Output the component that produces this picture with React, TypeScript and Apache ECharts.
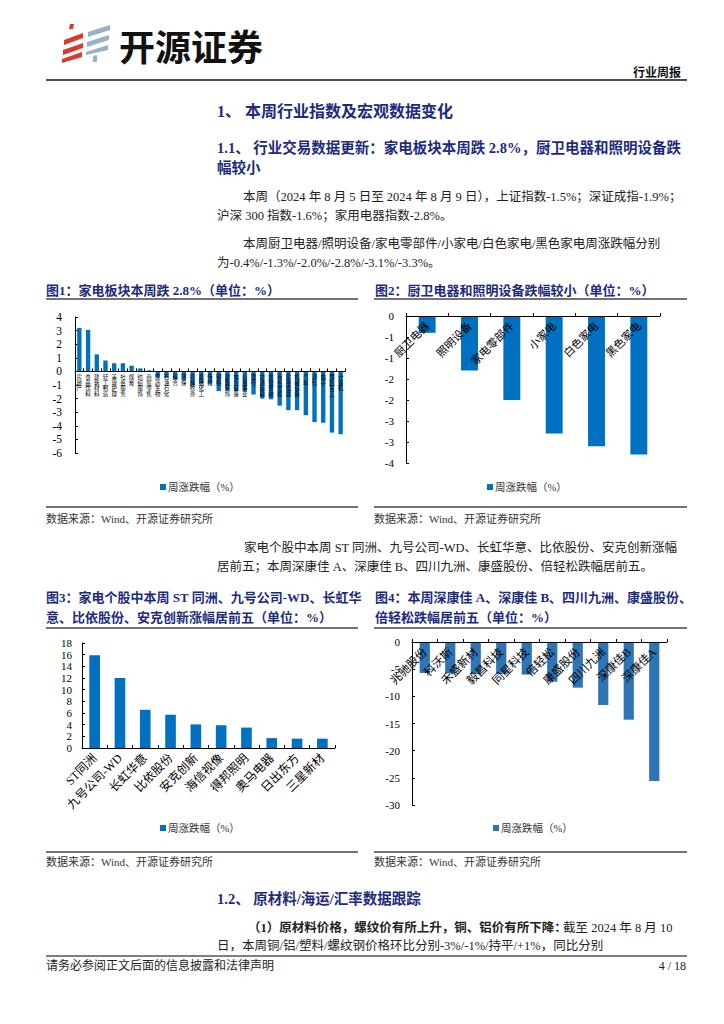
import React, { useEffect, useRef } from "react";
import * as echarts from "echarts";

// ---------- data ----------
const industries = [
  "房地产", "食品饮料", "建筑材料", "轻工制造", "美容护理", "社会服务", "煤炭", "纺织服饰",
  "商贸零售", "医药生物", "石油石化", "综合", "环保", "农林牧渔", "基础化工", "传媒",
  "钢铁", "建筑装饰", "电力设备", "公用事业", "银行", "交通运输", "非银金融", "有色金属",
  "家用电器", "机械设备", "汽车", "通信", "电子", "国防军工", "计算机",
];
const industryChg = [
  3.2, 3.05, 1.25, 0.8, 0.6, 0.6, 0.42, 0.22, 0.08, -0.42, -0.47, -0.6, -0.65, -1.05,
  -0.9, -0.9, -1.45, -1.4, -1.45, -1.5, -1.7, -2.0, -2.05, -2.52, -2.85, -2.85, -3.22,
  -3.72, -3.78, -4.5, -4.62,
];
const subSectors = ["厨卫电器", "照明设备", "家电零部件", "小家电", "白色家电", "黑色家电"];
const subSectorChg = [-0.4, -1.3, -2.0, -2.8, -3.1, -3.3];
const gainers = ["ST同洲", "九号公司-WD", "长虹华意", "比依股份", "安克创新", "海信视像", "得邦照明", "奥马电器", "日出东方", "三星新材"];
const gainerChg = [15.9, 12.0, 6.55, 5.7, 4.05, 3.9, 3.5, 1.7, 1.6, 1.6];
const losers = ["兆驰股份", "科沃斯", "禾盛新材", "毅昌科技", "同星科技", "倍轻松", "康盛股份", "四川九洲", "深康佳B", "深康佳A"];
const loserChg = [-5.7, -5.8, -5.9, -5.9, -6.0, -7.3, -8.4, -11.6, -14.3, -25.6];
const seriesName = "周涨跌幅（%）";

// axis ranges: [min, max, interval]
const range1 = [-6, 4, 1];
const range2 = [-3.5, 0, 0.5];
const range3 = [0, 18, 2];
const range4 = [-30, 0, 5];

// ---------- styles ----------
const SERIF = "'Liberation Serif', 'Times New Roman', 'Noto Sans CJK SC', serif";
const NAVY = "#1d2b7c";
const BODY = "#222";
const BLUE = "#0070C0";
const BLUE4 = "#2E75B6";

const grids = [
  { left: 75, top: 317, width: 270, height: 136 },
  { left: 406, top: 316, width: 254, height: 147 },
  { left: 82, top: 643, width: 253, height: 105 },
  { left: 412, top: 642, width: 255, height: 163 },
];

function txt(text: string, x: number, y: number, size: number, opts: any = {}) {
  return {
    type: "text",
    x,
    y,
    silent: true,
    style: {
      text,
      fill: opts.fill || BODY,
      fontSize: size,
      fontFamily: SERIF,
      fontWeight: opts.bold ? "bold" : "normal",
      align: opts.align || "left",
      verticalAlign: "middle",
      textAlign: opts.align || "left",
      textVerticalAlign: "middle",
    },
  };
}
function hline(x1: number, x2: number, y: number, w = 1.5, c = "#444") {
  return { type: "line", silent: true, shape: { x1, y1: y, x2, y2: y }, style: { stroke: c, lineWidth: w } };
}
function poly(points: number[][], fill: string) {
  return { type: "polygon", silent: true, shape: { points }, style: { fill } };
}
function legend(x: number, y: number, color: string) {
  return [
    { type: "rect", silent: true, shape: { x, y: y - 3, width: 6, height: 6 }, style: { fill: color } },
    txt(seriesName, x + 8, y, 10.5, { fill: "#333" }),
  ];
}

function yAxisCfg(gridIndex: number, r: number[], fontSize: number, margin: number, formatter?: any) {
  return {
    type: "value",
    gridIndex,
    min: r[0],
    max: r[1],
    interval: r[2],
    splitLine: { show: false },
    axisLine: { show: true, lineStyle: { color: "#000", width: 1 } },
    axisTick: { show: true, inside: true, length: 3, lineStyle: { color: "#000" } },
    axisLabel: { color: "#000", fontSize, fontFamily: SERIF, margin, formatter },
  };
}
// category axis placed at the value-axis zero (offset from the grid bottom)
function xAxisCfg(gridIndex: number, data: string[], r: number[], label: any) {
  const h = grids[gridIndex].height;
  const zeroFromBottom = (h * (0 - r[0])) / (r[1] - r[0]);
  return {
    type: "category",
    gridIndex,
    data,
    z: 10,
    position: "bottom",
    offset: -zeroFromBottom,
    axisLine: { show: true, onZero: false, lineStyle: { color: "#000", width: 1 } },
    axisTick: { show: true, inside: true, length: 3, interval: 0, lineStyle: { color: "#000" } },
    axisLabel: Object.assign({ color: "#000", fontFamily: SERIF, interval: 0, hideOverlap: false }, label),
  };
}

export default function App() {
  const ref = useRef<HTMLDivElement>(null);
  useEffect(() => {
    document.body.style.margin = "0";
    const chart = echarts.init(ref.current!, null, { renderer: "svg" });

    const graphics: any[] = [
      // logo
      poly([[70, 24], [74, 24], [73, 29], [69, 29]], "#d93a2b"),
      poly([[64, 40], [83, 33], [83, 38], [64, 45]], "#d93a2b"),
      poly([[63, 50], [83, 43], [83, 48], [63, 55]], "#d93a2b"),
      poly([[62, 59], [82, 52], [82, 57], [62, 63]], "#d93a2b"),
      poly([[88, 32], [110, 25], [110, 30], [88, 37]], "#98b1c6"),
      poly([[87, 42], [109, 35], [109, 40], [87, 47]], "#98b1c6"),
      poly([[86, 52], [108, 45], [108, 50], [86, 55]], "#98b1c6"),
      poly([[93, 56], [97, 55], [97, 62], [93, 62]], "#98b1c6"),
      {
        type: "text", x: 119, y: 45, silent: true,
        style: { text: "开源证券", fill: "#111", fontSize: 36, fontWeight: "bold", fontFamily: "'Noto Sans CJK SC', sans-serif", verticalAlign: "middle", textVerticalAlign: "middle" },
      },
      txt("行业周报", 681, 73, 12, { bold: true, align: "right", fill: "#111" }),
      hline(46, 687, 80, 1.5, "#111"),

      // section titles and body text
      txt("1、 本周行业指数及宏观数据变化", 217, 111, 16, { bold: true, fill: NAVY }),
      txt("1.1、 行业交易数据更新：家电板块本周跌 2.8%，厨卫电器和照明设备跌", 217, 148, 14.5, { bold: true, fill: NAVY }),
      txt("幅较小", 217, 168, 14.5, { bold: true, fill: NAVY }),
      txt("本周（2024 年 8 月 5 日至 2024 年 8 月 9 日），上证指数-1.5%；深证成指-1.9%；", 243, 197, 12.5),
      txt("沪深 300 指数-1.6%；家用电器指数-2.8%。", 217, 216, 12.5),
      txt("本周厨卫电器/照明设备/家电零部件/小家电/白色家电/黑色家电周涨跌幅分别", 243, 244, 12.5),
      txt("为-0.4%/-1.3%/-2.0%/-2.8%/-3.1%/-3.3%。", 217, 263, 12.5),

      txt("图1：家电板块本周跌 2.8%（单位：%）", 46, 290, 13, { bold: true, fill: NAVY }),
      txt("图2：厨卫电器和照明设备跌幅较小（单位：%）", 375, 290, 13, { bold: true, fill: NAVY }),
      hline(46, 358, 299),
      hline(374, 687, 299),
      ...legend(160, 487, BLUE),
      ...legend(487, 487, BLUE),
      hline(46, 358, 507),
      hline(374, 687, 507),
      txt("数据来源：Wind、开源证券研究所", 46, 519, 11, { fill: "#333" }),
      txt("数据来源：Wind、开源证券研究所", 374, 519, 11, { fill: "#333" }),

      txt("家电个股中本周 ST 同洲、九号公司-WD、长虹华意、比依股份、安克创新涨幅", 244, 548, 12.5),
      txt("居前五；本周深康佳 A、深康佳 B、四川九洲、康盛股份、倍轻松跌幅居前五。", 217, 567, 12.5),

      txt("图3：家电个股中本周 ST 同洲、九号公司-WD、长虹华", 46, 597, 13, { bold: true, fill: NAVY }),
      txt("意、比依股份、安克创新涨幅居前五（单位：%）", 46, 617, 13, { bold: true, fill: NAVY }),
      txt("图4：本周深康佳 A、深康佳 B、四川九洲、康盛股份、", 375, 597, 13, { bold: true, fill: NAVY }),
      txt("倍轻松跌幅居前五（单位：%）", 375, 617, 13, { bold: true, fill: NAVY }),
      hline(46, 358, 628),
      hline(374, 687, 628),
      ...legend(160, 828, BLUE),
      ...legend(493, 828, BLUE4),
      hline(46, 358, 852),
      hline(374, 687, 852),
      txt("数据来源：Wind、开源证券研究所", 46, 862, 11, { fill: "#333" }),
      txt("数据来源：Wind、开源证券研究所", 374, 862, 11, { fill: "#333" }),

      txt("1.2、 原材料/海运/汇率数据跟踪", 217, 899, 14.5, { bold: true, fill: NAVY }),
      txt("（1）原材料价格，螺纹价有所上升，铜、铝价有所下降：", 248, 928, 12.5, { bold: true }),
      txt("截至 2024 年 8 月 10", 563, 928, 12.5),
      txt("日，本周铜/铝/塑料/螺纹钢价格环比分别-3%/-1%/持平/+1%，同比分别", 217, 946, 12.5),
      hline(46, 687, 956, 1.5, "#555"),
      txt("请务必参阅正文后面的信息披露和法律声明", 46, 966, 12),
      txt("4 / 18", 686, 966, 12, { align: "right" }),
    ];

    const option: any = {
      animation: false,
      backgroundColor: "#fff",
      grid: grids,
      xAxis: [
        xAxisCfg(0, industries, range1, {
          fontSize: 5.5,
          lineHeight: 5.5,
          margin: 3,
          formatter: (v: string) => v.split("").join("\n"),
        }),
        xAxisCfg(1, subSectors, range2, { fontSize: 11, rotate: 45, margin: 8 }),
        xAxisCfg(2, gainers, range3, { fontSize: 12, rotate: 45, margin: 8 }),
        xAxisCfg(3, losers, range4, { fontSize: 11.5, rotate: 45, margin: 8 }),
      ],
      yAxis: [
        yAxisCfg(0, range1, 11.5, 13),
        yAxisCfg(1, range2, 11, 12, (v: number) => {
          const r = Math.sign(v) * Math.round(Math.abs(v));
          return r === 0 ? "0" : String(r);
        }),
        yAxisCfg(2, range3, 11, 10),
        yAxisCfg(3, range4, 11, 12),
      ],
      series: [
        { type: "bar", name: seriesName, xAxisIndex: 0, yAxisIndex: 0, data: industryChg, barWidth: "50%", itemStyle: { color: BLUE } },
        { type: "bar", name: seriesName, xAxisIndex: 1, yAxisIndex: 1, data: subSectorChg, barWidth: "40%", itemStyle: { color: BLUE } },
        { type: "bar", name: seriesName, xAxisIndex: 2, yAxisIndex: 2, data: gainerChg, barWidth: "42%", itemStyle: { color: BLUE } },
        { type: "bar", name: seriesName, xAxisIndex: 3, yAxisIndex: 3, data: loserChg, barWidth: "40%", itemStyle: { color: BLUE4 } },
      ],
      graphic: { elements: graphics },
    };
    chart.setOption(option);
    return () => chart.dispose();
  }, []);
  return <div ref={ref} style={{ width: 724, height: 1024 }} />;
}
